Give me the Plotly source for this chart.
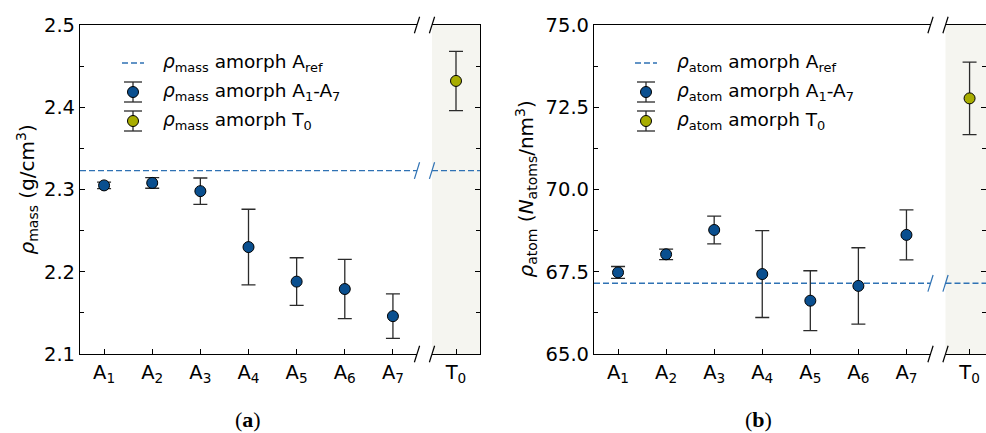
import plotly.graph_objects as go

# ---------------- data ----------------
categories = ["A<sub>1</sub>", "A<sub>2</sub>", "A<sub>3</sub>", "A<sub>4</sub>",
              "A<sub>5</sub>", "A<sub>6</sub>", "A<sub>7</sub>"]
cat_pos = [1, 2, 3, 4, 5, 6, 7]
t0_label = ["T<sub>0</sub>"]
t0_pos = [0]

mass_vals = [2.305, 2.308, 2.298, 2.230, 2.188, 2.179, 2.146]
mass_err = [0.004, 0.0065, 0.016, 0.046, 0.029, 0.036, 0.027]
mass_t0 = [2.432]
mass_t0_err = [0.036]
mass_ref = 2.323

atom_vals = [67.48, 68.03, 68.77, 67.43, 66.62, 67.07, 68.62]
atom_err = [0.18, 0.16, 0.42, 1.32, 0.91, 1.16, 0.76]
atom_t0 = [72.77]
atom_t0_err = [1.10]
atom_ref = 67.15

# ---------------- style ----------------
W, H = 986, 433
BLUE = "#0a4f8f"
OLIVE = "#a8ad00"
REFBLUE = "#2f72b4"
ERR = "#2b2b2b"
PANEL_BG = "#f5f5f0"
FONT = "DejaVu Sans"
TICK_SIZE = 19.5
TITLE_SIZE = 20
LEG_SIZE = 18.5

def px(x):
    return x / W

def py(y):
    return 1 - y / H

Y_TOP, Y_BOT = 25, 354
ydom = [py(Y_BOT), py(Y_TOP)]

# panel edges in pixels
L_MAIN = (80, 417)
L_T0 = (432, 480)
R_MAIN = (594, 930.5)
R_T0 = (945.5, 986)
UNIT = (L_MAIN[1] - L_MAIN[0]) / 7.0

fig = go.Figure()

def add_points(xs, ys, errs, color, xa, ya):
    fig.add_trace(go.Scatter(
        x=xs, y=ys, mode="markers", xaxis=xa, yaxis=ya, showlegend=False,
        marker=dict(size=11, color=color, line=dict(color="black", width=1)),
        error_y=dict(type="data", array=errs, visible=True, color=ERR,
                     thickness=1.3, width=7),
    ))

def add_ref(xs, yval, xa, ya):
    fig.add_trace(go.Scatter(
        x=xs, y=[yval, yval], mode="lines", xaxis=xa, yaxis=ya, showlegend=False,
        line=dict(color=REFBLUE, width=1.4, dash="6px,3px"),
    ))

# left panel (mass)
add_ref([0.5, 7.5], mass_ref, "x", "y")
add_ref([-0.5, 0.5], mass_ref, "x2", "y2")
add_points(cat_pos, mass_vals, mass_err, BLUE, "x", "y")
add_points(t0_pos, mass_t0, mass_t0_err, OLIVE, "x2", "y2")

# right panel (atom)
add_ref([0.5, 7.5], atom_ref, "x3", "y3")
add_ref([-0.5, 0.5], atom_ref, "x4", "y4")
add_points(cat_pos, atom_vals, atom_err, BLUE, "x3", "y3")
add_points(t0_pos, atom_t0, atom_t0_err, OLIVE, "x4", "y4")

tickfont = dict(family=FONT, size=TICK_SIZE, color="black")

def xax(dom, rng, tv, tt):
    return dict(domain=[px(dom[0]), px(dom[1])], range=rng, tickvals=tv, ticktext=tt,
                showline=True, linecolor="black", linewidth=1.2, mirror=True,
                ticks="inside", ticklen=5, tickcolor="black", tickwidth=1,
                showgrid=False, zeroline=False, tickfont=tickfont, fixedrange=True,
                automargin=False)

def yax(anchor, rng, dtick, minor, fmt, side="left", labels=True):
    return dict(domain=ydom, range=rng, anchor=anchor, side=side, dtick=dtick,
                tick0=rng[0], tickformat=fmt, showticklabels=labels,
                showline=True, linecolor="black", linewidth=1.2, mirror=False,
                ticks="inside", ticklen=5, tickcolor="black", tickwidth=1,
                minor=dict(dtick=minor, ticks="inside", ticklen=3.5,
                           tickcolor="black", tickwidth=1),
                showgrid=False, zeroline=False, tickfont=tickfont, fixedrange=True,
                automargin=False)

t0_range_l = [-0.5, 0.5]
t0_range_r = [-0.5, -0.5 + (R_T0[1] - R_T0[0]) / UNIT]

fig.update_layout(
    width=W, height=H, autosize=False,
    margin=dict(l=0, r=0, t=0, b=0, pad=0, autoexpand=False),
    paper_bgcolor="white", plot_bgcolor="rgba(0,0,0,0)",
    font=dict(family=FONT, size=TICK_SIZE, color="black"),
    xaxis=dict(xax(L_MAIN, [0.5, 7.5], cat_pos, categories), anchor="y"),
    yaxis=yax("x", [2.1, 2.5], 0.1, 0.05, ".1f"),
    xaxis2=dict(xax(L_T0, t0_range_l, t0_pos, t0_label), anchor="y2"),
    yaxis2=yax("x2", [2.1, 2.5], 0.1, 0.05, ".1f", side="right", labels=False),
    xaxis3=dict(xax(R_MAIN, [0.5, 7.5], cat_pos, categories), anchor="y3"),
    yaxis3=yax("x3", [65, 75], 2.5, 1.25, ".1f"),
    xaxis4=dict(xax(R_T0, t0_range_r, t0_pos, t0_label), anchor="y4"),
    yaxis4=yax("x4", [65, 75], 2.5, 1.25, ".1f", side="right", labels=False),
)

shapes = []
# grey background for T0 panels
for xr, yr in (("x2", "y2"), ("x4", "y4")):
    shapes.append(dict(type="rect", xref=f"{xr} domain", yref=f"{yr} domain",
                       x0=0, x1=1, y0=0, y1=1, fillcolor=PANEL_BG,
                       line=dict(width=0), layer="below"))

# axis break slashes
def slash(xpix, yref, yanchor, color):
    return dict(type="line", xref="paper", xsizemode="pixel", xanchor=px(xpix),
                x0=-2.6, x1=2.6, yref=yref, ysizemode="pixel", yanchor=yanchor,
                y0=-8.3, y1=8.3, line=dict(color=color, width=1.2))

for (main, t0, yr, ref) in ((L_MAIN, L_T0, "y", mass_ref), (R_MAIN, R_T0, "y3", atom_ref)):
    for xpix in (main[1], t0[0]):
        shapes.append(slash(xpix, "paper", py(Y_TOP), "black"))
        shapes.append(slash(xpix, "paper", py(Y_BOT), "black"))
        shapes.append(slash(xpix, yr, ref, REFBLUE))

annotations = []

# custom legends
def legend(sym_x, text_x, names):
    rows = [63, 92, 121]
    shapes.append(dict(type="line", xref="paper", yref="paper",
                       x0=px(sym_x - 11), x1=px(sym_x + 11), y0=py(rows[0]), y1=py(rows[0]),
                       line=dict(color=REFBLUE, width=1.4, dash="6px,3px")))
    for ry, col in ((rows[1], BLUE), (rows[2], OLIVE)):
        shapes.append(dict(type="line", xref="paper", yref="paper",
                           x0=px(sym_x), x1=px(sym_x), y0=py(ry - 10), y1=py(ry + 10),
                           line=dict(color=ERR, width=1.3)))
        for dy in (-10, 10):
            shapes.append(dict(type="line", xref="paper", yref="paper",
                               x0=px(sym_x - 9), x1=px(sym_x + 9), y0=py(ry + dy), y1=py(ry + dy),
                               line=dict(color=ERR, width=1.3)))
        shapes.append(dict(type="circle", xref="paper", yref="paper",
                           xsizemode="pixel", ysizemode="pixel",
                           xanchor=px(sym_x), yanchor=py(ry),
                           x0=-5.5, x1=5.5, y0=-5.5, y1=5.5,
                           fillcolor=col, line=dict(color="black", width=1)))
    for ry, name in zip(rows, names):
        annotations.append(dict(xref="paper", yref="paper", x=px(text_x), y=py(ry),
                                xanchor="left", yanchor="middle", showarrow=False,
                                text=name, font=dict(family=FONT, size=LEG_SIZE, color="black")))

legend(133, 161, [
    "<i>ρ</i><sub>mass</sub> amorph A<sub>ref</sub>",
    "<i>ρ</i><sub>mass</sub> amorph A<sub>1</sub>-A<sub>7</sub>",
    "<i>ρ</i><sub>mass</sub> amorph T<sub>0</sub>",
])
legend(646, 675, [
    "<i>ρ</i><sub>atom</sub> amorph A<sub>ref</sub>",
    "<i>ρ</i><sub>atom</sub> amorph A<sub>1</sub>-A<sub>7</sub>",
    "<i>ρ</i><sub>atom</sub> amorph T<sub>0</sub>",
])

# axis titles
annotations.append(dict(xref="paper", yref="paper", x=px(27), y=py(189.5),
                        xanchor="center", yanchor="middle", textangle=-90, showarrow=False,
                        text="<i>ρ</i><sub>mass</sub> (g/cm<sup>3</sup>)",
                        font=dict(family=FONT, size=TITLE_SIZE, color="black")))
annotations.append(dict(xref="paper", yref="paper", x=px(526), y=py(189.5),
                        xanchor="center", yanchor="middle", textangle=-90, showarrow=False,
                        text="<i>ρ</i><sub>atom</sub> (<i>N</i><sub>atoms</sub>/nm<sup>3</sup>)",
                        font=dict(family=FONT, size=TITLE_SIZE, color="black")))

# captions
for cx, lab in ((248, "a"), (758, "b")):
    annotations.append(dict(xref="paper", yref="paper", x=px(cx), y=py(419),
                            xanchor="center", yanchor="middle", showarrow=False,
                            text=f"(<b>{lab}</b>)",
                            font=dict(family="Liberation Serif", size=22, color="black")))

fig.update_layout(shapes=shapes, annotations=annotations)
fig.write_html("out.html")
